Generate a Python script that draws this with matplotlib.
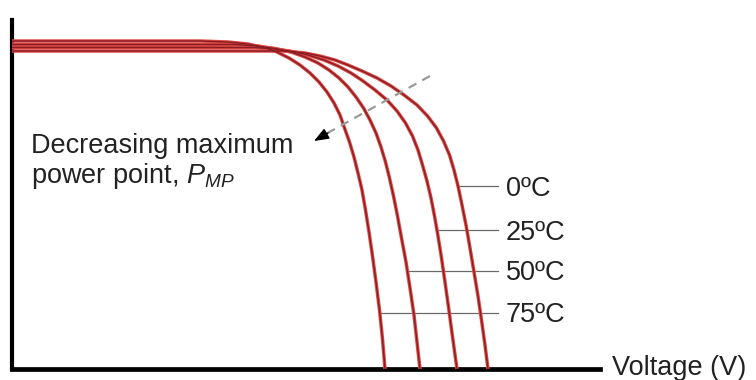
import matplotlib
matplotlib.use("Agg")
import matplotlib.pyplot as plt

plt.rcParams['font.family'] = ['Liberation Sans', 'DejaVu Sans']
plt.rcParams['mathtext.fontset'] = 'custom'
plt.rcParams['mathtext.it'] = 'Liberation Sans:italic'
plt.rcParams['mathtext.rm'] = 'Liberation Sans'

# ---- data (arbitrary units) ----
temps = ["0ºC", "25ºC", "50ºC", "75ºC"]

v_0 = [0, 273, 293, 308, 323, 336, 350, 365, 379, 392, 405, 415.5, 424.5, 431.5, 437.5,
       442, 446, 450, 454, 458, 462, 466, 469.5, 473, 476]
i_0 = [318, 318, 316, 313, 309, 304, 298, 291, 283, 274, 264, 253, 241, 228, 214,
       199, 183, 164, 144, 121, 97, 73, 49, 24, 0]

v_25 = [0, 243, 263, 280, 296, 312, 326, 339, 351, 363, 375, 385, 393.5, 400.5, 406,
        410.5, 415, 419, 422.5, 426, 429.5, 433, 436.5, 440, 445]
i_25 = [321.5, 321.5, 320, 317.5, 314, 309, 303, 296, 288, 279, 269, 258, 246, 233, 219,
        204, 188, 171, 153, 133, 111, 87, 62, 36, 0]

v_50 = [0, 223, 245, 263, 279, 293, 306, 317, 327, 336, 344, 351.5, 358, 364, 369,
        373.5, 377.5, 381.5, 385.5, 389.5, 394, 398, 402, 405, 408]
i_50 = [324.5, 324.5, 323, 320.5, 317, 312, 306, 299, 291, 282, 272, 261, 249, 236, 222,
        207, 191, 173, 153, 131, 107, 81, 54, 27, 0]

v_75 = [0, 188, 216, 236, 252, 265, 277, 288, 298, 307, 315, 322, 328, 332.5, 337.5,
        342, 346, 350, 353.5, 357, 360.5, 364, 367.5, 370.5, 373]
i_75 = [328, 328, 327, 325, 321.5, 317, 311, 304, 296, 287, 277, 266, 254, 241, 227,
        212, 196, 179, 159, 137, 113, 87, 59, 30, 0]

volts = [v_0, v_25, v_50, v_75]
amps = [i_0, i_25, i_50, i_75]

# label leader lines: start voltage on each curve, current level
label_v = [446, 425, 395.5, 368]
label_i = [183, 139, 98, 56]

# ---- figure ----
fig = plt.figure(figsize=(7.56, 3.8), dpi=100)
ax = fig.add_axes([12 / 756, 11 / 380, 588 / 756, 349 / 380])
ax.set_xlim(0, 588)
ax.set_ylim(0, 349)
for s in ['top', 'right']:
    ax.spines[s].set_visible(False)
ax.spines['left'].set_linewidth(3.0)
ax.spines['bottom'].set_linewidth(3.4)
ax.set_xticks([])
ax.set_yticks([])

halo = '#db4a44'
core = '#8a1c24'
for v, i in zip(volts, amps):
    ax.plot(v, i, color=halo, lw=2.5, solid_capstyle='butt', solid_joinstyle='round',
            clip_on=False, zorder=3)
for v, i in zip(volts, amps):
    ax.plot(v, i, color=core, lw=1.0, solid_capstyle='butt', solid_joinstyle='round',
            clip_on=False, zorder=4)

txt = '#222222'
for t, lv, li, yb in zip(temps, label_v, label_i, [173.5, 129.5, 88.5, 46.5]):
    ax.plot([lv, 486], [li, li], color='#6a6a6a', lw=0.9, zorder=2)
    ax.text(494, yb, t, fontsize=19.5, color=txt, va='baseline', ha='left')

ax.text(600, -6, "Voltage (V)", fontsize=19.5, color=txt, va='baseline', ha='left',
        clip_on=False)

ax.text(19, 216, "Decreasing maximum", fontsize=19.5, color=txt, va='baseline', ha='left')
ax.text(19, 186, r"power point, $P_{MP}$", fontsize=19.5, color=txt, va='baseline', ha='left')

# dashed arrow
ax.plot([418, 312], [293, 234], color='#9a9a9a', lw=1.6, ls=(0, (4, 3)), zorder=5)
ax.annotate('', xy=(302, 228), xytext=(316, 236),
            arrowprops=dict(arrowstyle='-|>,head_length=0.9,head_width=0.35',
                            color='black', lw=1.0, shrinkA=0, shrinkB=0), zorder=6)

fig.savefig('out.png', dpi=100)
